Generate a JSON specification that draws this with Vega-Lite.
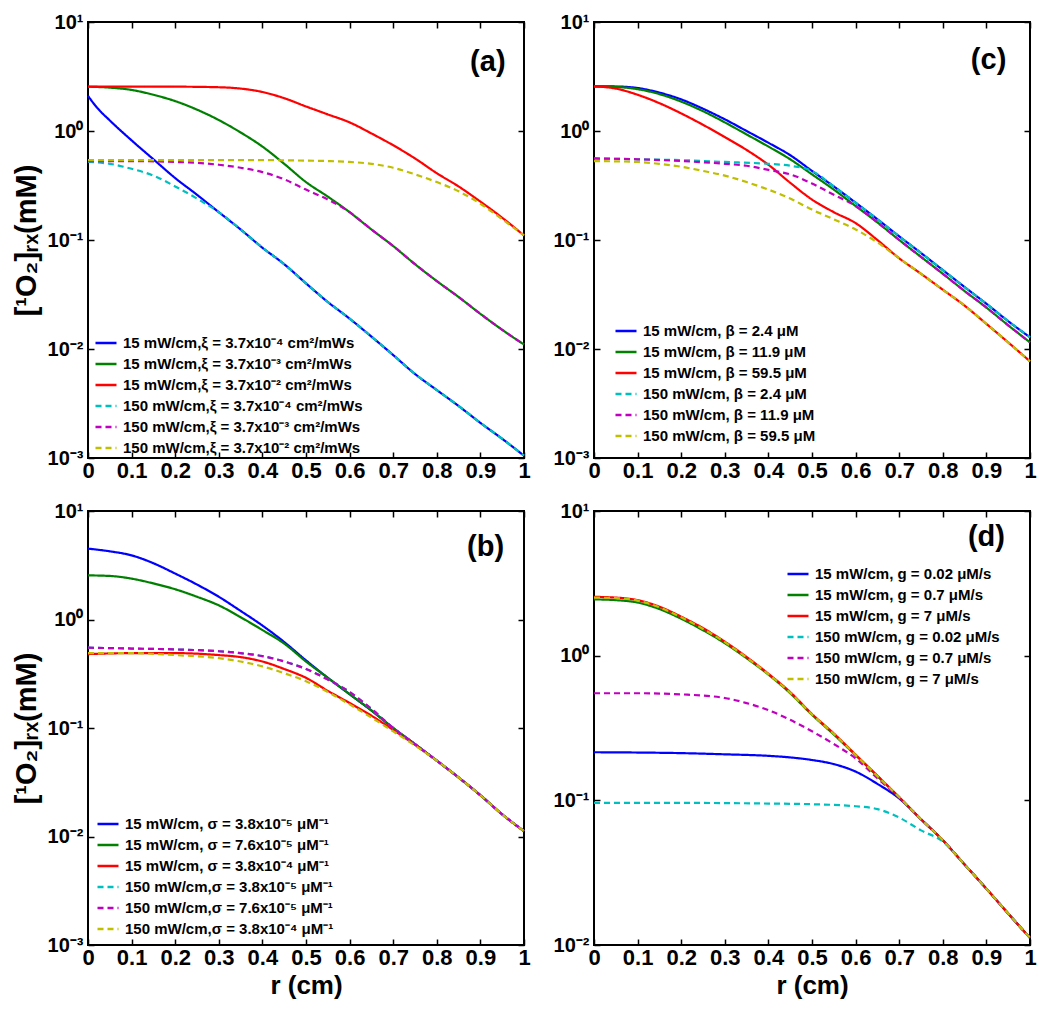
{
  "$schema": "https://vega.github.io/schema/vega-lite/v6.json",
  "background": "white",
  "padding": {"left": 11, "top": 11, "right": 5, "bottom": 5},
  "columns": 2,
  "bounds": "flush",
  "spacing": {"row": 53, "column": 70},
  "resolve": {"scale": {"color": "independent", "strokeDash": "independent"}, "legend": {"color": "independent", "strokeDash": "independent"}},
  "config": {
    "view": {"stroke": "black", "strokeWidth": 2},
    "axis": {"domain": false, "grid": false, "tickColor": "black", "tickSize": -6, "tickWidth": 1.5, "labelPadding": 11, "labelFont": "Liberation Sans", "labelFontSize": 22, "labelFontWeight": "bold", "labelColor": "black", "labelFlush": false, "titleFont": "Liberation Sans", "titleFontSize": 26, "titleFontWeight": "bold", "titleColor": "black"},
    "axisX": {"labelPadding": 8},
    "axisY": {"labelFontSize": 20},
    "legend": {"symbolType": "stroke", "symbolStrokeWidth": 2.5, "symbolSize": 441, "labelFont": "Liberation Sans", "labelFontSize": 15, "labelFontWeight": "bold", "labelColor": "black", "rowPadding": 1, "padding": 0, "labelLimit": 500, "labelOffset": 5},
    "text": {"font": "Liberation Sans"}
  },
  "concat": [
    {
      "width": 436, "height": 436,
      "layer": [
        {
          "data": {"values": [
            {"k":1,"r":0,"v":2.1},{"k":1,"r":0.02,"v":1.65},{"k":1,"r":0.05,"v":1.25},{"k":1,"r":0.1,"v":0.82},{"k":1,"r":0.15,"v":0.55},{"k":1,"r":0.2,"v":0.37},{"k":1,"r":0.25,"v":0.26},{"k":1,"r":0.3,"v":0.18},{"k":1,"r":0.35,"v":0.125},{"k":1,"r":0.4,"v":0.085},{"k":1,"r":0.45,"v":0.06},{"k":1,"r":0.5,"v":0.04},{"k":1,"r":0.55,"v":0.027},{"k":1,"r":0.6,"v":0.019},{"k":1,"r":0.65,"v":0.013},{"k":1,"r":0.7,"v":0.0088},{"k":1,"r":0.75,"v":0.0059},{"k":1,"r":0.8,"v":0.0042},{"k":1,"r":0.85,"v":0.003},{"k":1,"r":0.9,"v":0.0021},{"k":1,"r":0.95,"v":0.0015},{"k":1,"r":1,"v":0.00105},
            {"k":2,"r":0,"v":2.55},{"k":2,"r":0.05,"v":2.5},{"k":2,"r":0.1,"v":2.38},{"k":2,"r":0.15,"v":2.15},{"k":2,"r":0.2,"v":1.88},{"k":2,"r":0.25,"v":1.57},{"k":2,"r":0.3,"v":1.26},{"k":2,"r":0.35,"v":0.97},{"k":2,"r":0.4,"v":0.72},{"k":2,"r":0.45,"v":0.5},{"k":2,"r":0.5,"v":0.34},{"k":2,"r":0.55,"v":0.25},{"k":2,"r":0.6,"v":0.18},{"k":2,"r":0.65,"v":0.125},{"k":2,"r":0.7,"v":0.088},{"k":2,"r":0.75,"v":0.06},{"k":2,"r":0.8,"v":0.042},{"k":2,"r":0.85,"v":0.03},{"k":2,"r":0.9,"v":0.021},{"k":2,"r":0.95,"v":0.015},{"k":2,"r":1,"v":0.011},
            {"k":3,"r":0,"v":2.55},{"k":3,"r":0.1,"v":2.55},{"k":3,"r":0.2,"v":2.55},{"k":3,"r":0.3,"v":2.52},{"k":3,"r":0.35,"v":2.45},{"k":3,"r":0.4,"v":2.28},{"k":3,"r":0.45,"v":2.0},{"k":3,"r":0.5,"v":1.68},{"k":3,"r":0.55,"v":1.42},{"k":3,"r":0.6,"v":1.2},{"k":3,"r":0.65,"v":0.95},{"k":3,"r":0.7,"v":0.74},{"k":3,"r":0.75,"v":0.56},{"k":3,"r":0.8,"v":0.41},{"k":3,"r":0.85,"v":0.31},{"k":3,"r":0.9,"v":0.225},{"k":3,"r":0.95,"v":0.16},{"k":3,"r":1,"v":0.11},
            {"k":4,"r":0,"v":0.52},{"k":4,"r":0.05,"v":0.5},{"k":4,"r":0.1,"v":0.45},{"k":4,"r":0.15,"v":0.39},{"k":4,"r":0.2,"v":0.31},{"k":4,"r":0.25,"v":0.24},{"k":4,"r":0.3,"v":0.18},{"k":4,"r":0.35,"v":0.125},{"k":4,"r":0.4,"v":0.085},{"k":4,"r":0.45,"v":0.06},{"k":4,"r":0.5,"v":0.04},{"k":4,"r":0.55,"v":0.027},{"k":4,"r":0.6,"v":0.019},{"k":4,"r":0.65,"v":0.013},{"k":4,"r":0.7,"v":0.0088},{"k":4,"r":0.75,"v":0.0059},{"k":4,"r":0.8,"v":0.0042},{"k":4,"r":0.85,"v":0.003},{"k":4,"r":0.9,"v":0.0021},{"k":4,"r":0.95,"v":0.0015},{"k":4,"r":1,"v":0.00105},
            {"k":5,"r":0,"v":0.53},{"k":5,"r":0.1,"v":0.53},{"k":5,"r":0.2,"v":0.52},{"k":5,"r":0.25,"v":0.51},{"k":5,"r":0.3,"v":0.49},{"k":5,"r":0.35,"v":0.46},{"k":5,"r":0.4,"v":0.42},{"k":5,"r":0.45,"v":0.36},{"k":5,"r":0.5,"v":0.29},{"k":5,"r":0.55,"v":0.235},{"k":5,"r":0.6,"v":0.18},{"k":5,"r":0.65,"v":0.125},{"k":5,"r":0.7,"v":0.088},{"k":5,"r":0.75,"v":0.06},{"k":5,"r":0.8,"v":0.042},{"k":5,"r":0.85,"v":0.03},{"k":5,"r":0.9,"v":0.021},{"k":5,"r":0.95,"v":0.015},{"k":5,"r":1,"v":0.011},
            {"k":6,"r":0,"v":0.54},{"k":6,"r":0.2,"v":0.54},{"k":6,"r":0.4,"v":0.54},{"k":6,"r":0.5,"v":0.535},{"k":6,"r":0.55,"v":0.53},{"k":6,"r":0.6,"v":0.52},{"k":6,"r":0.65,"v":0.5},{"k":6,"r":0.7,"v":0.46},{"k":6,"r":0.75,"v":0.4},{"k":6,"r":0.8,"v":0.34},{"k":6,"r":0.85,"v":0.28},{"k":6,"r":0.9,"v":0.215},{"k":6,"r":0.95,"v":0.155},{"k":6,"r":1,"v":0.11}
          ]},
          "transform": [{"lookup": "k", "from": {"data": {"values": [
            {"k":1,"s":"15 mW/cm,ξ = 3.7x10⁻⁴ cm²/mWs"},
            {"k":2,"s":"15 mW/cm,ξ = 3.7x10⁻³ cm²/mWs"},
            {"k":3,"s":"15 mW/cm,ξ = 3.7x10⁻² cm²/mWs"},
            {"k":4,"s":"150 mW/cm,ξ = 3.7x10⁻⁴ cm²/mWs"},
            {"k":5,"s":"150 mW/cm,ξ = 3.7x10⁻³ cm²/mWs"},
            {"k":6,"s":"150 mW/cm,ξ = 3.7x10⁻² cm²/mWs"}
          ]}, "key": "k", "fields": ["s"]}}],
          "mark": {"type": "line", "strokeWidth": 2.2, "interpolate": "monotone"},
          "encoding": {
            "x": {"field": "r", "type": "quantitative", "scale": {"domain": [0, 1], "nice": false}, "axis": {"values": [0,0.1,0.2,0.3,0.4,0.5,0.6,0.7,0.8,0.9,1], "format": "~g", "title": null}},
            "y": {"field": "v", "type": "quantitative", "scale": {"type": "log", "domain": [0.001, 10], "nice": false}, "axis": {"values": [0.001,0.01,0.1,1,10], "labelExpr": "datum.value > 5 ? '10¹' : datum.value > 0.5 ? '10⁰' : datum.value > 0.05 ? '10⁻¹' : datum.value > 0.005 ? '10⁻²' : '10⁻³'", "title": "[¹O₂]ᵣₓ(mM)", "titleFontSize": 29, "titlePadding": 6}},
            "color": {"field": "s", "type": "nominal", "sort": null, "scale": {"domain": ["15 mW/cm,ξ = 3.7x10⁻⁴ cm²/mWs","15 mW/cm,ξ = 3.7x10⁻³ cm²/mWs","15 mW/cm,ξ = 3.7x10⁻² cm²/mWs","150 mW/cm,ξ = 3.7x10⁻⁴ cm²/mWs","150 mW/cm,ξ = 3.7x10⁻³ cm²/mWs","150 mW/cm,ξ = 3.7x10⁻² cm²/mWs"], "range": ["#0000FF","#008000","#FF0000","#00BFBF","#BF00BF","#BFBF00"]}, "legend": {"orient": "none", "legendX": 6, "legendY": 309, "title": null}},
            "strokeDash": {"field": "s", "type": "nominal", "sort": null, "scale": {"domain": ["15 mW/cm,ξ = 3.7x10⁻⁴ cm²/mWs","15 mW/cm,ξ = 3.7x10⁻³ cm²/mWs","15 mW/cm,ξ = 3.7x10⁻² cm²/mWs","150 mW/cm,ξ = 3.7x10⁻⁴ cm²/mWs","150 mW/cm,ξ = 3.7x10⁻³ cm²/mWs","150 mW/cm,ξ = 3.7x10⁻² cm²/mWs"], "range": [[1,0],[1,0],[1,0],[6,4],[6,4],[6,4]]}, "legend": {"orient": "none", "legendX": 6, "legendY": 309, "title": null}}
          }
        },
        {
          "data": {"values": [{"r": 0.917, "v": 4.3, "t": "(a)"}]},
          "mark": {"type": "text", "fontSize": 29, "fontWeight": "bold", "align": "center", "baseline": "middle", "color": "black"},
          "encoding": {
            "x": {"field": "r", "type": "quantitative", "scale": {"domain": [0, 1], "nice": false}, "axis": {"orient": "top", "labels": false, "title": null, "values": [0,0.1,0.2,0.3,0.4,0.5,0.6,0.7,0.8,0.9,1]}},
            "y": {"field": "v", "type": "quantitative", "scale": {"type": "log", "domain": [0.001, 10], "nice": false}, "axis": {"orient": "right", "labels": false, "title": null, "values": [0.001,0.01,0.1,1,10]}},
            "text": {"field": "t"}
          }
        }
      ],
      "resolve": {"axis": {"x": "independent", "y": "independent"}}
    },
    {
      "width": 436, "height": 436,
      "layer": [
        {
          "data": {"values": [
            {"k":1,"r":0,"v":2.57},{"k":1,"r":0.05,"v":2.56},{"k":1,"r":0.1,"v":2.48},{"k":1,"r":0.15,"v":2.25},{"k":1,"r":0.2,"v":1.95},{"k":1,"r":0.25,"v":1.6},{"k":1,"r":0.3,"v":1.28},{"k":1,"r":0.35,"v":1.0},{"k":1,"r":0.4,"v":0.78},{"k":1,"r":0.45,"v":0.6},{"k":1,"r":0.5,"v":0.43},{"k":1,"r":0.55,"v":0.31},{"k":1,"r":0.6,"v":0.22},{"k":1,"r":0.65,"v":0.155},{"k":1,"r":0.7,"v":0.108},{"k":1,"r":0.75,"v":0.076},{"k":1,"r":0.8,"v":0.053},{"k":1,"r":0.85,"v":0.037},{"k":1,"r":0.9,"v":0.026},{"k":1,"r":0.95,"v":0.018},{"k":1,"r":1,"v":0.0128},
            {"k":2,"r":0,"v":2.57},{"k":2,"r":0.05,"v":2.54},{"k":2,"r":0.1,"v":2.42},{"k":2,"r":0.15,"v":2.18},{"k":2,"r":0.2,"v":1.86},{"k":2,"r":0.25,"v":1.52},{"k":2,"r":0.3,"v":1.2},{"k":2,"r":0.35,"v":0.93},{"k":2,"r":0.4,"v":0.72},{"k":2,"r":0.45,"v":0.55},{"k":2,"r":0.5,"v":0.4},{"k":2,"r":0.55,"v":0.29},{"k":2,"r":0.6,"v":0.205},{"k":2,"r":0.65,"v":0.145},{"k":2,"r":0.7,"v":0.1},{"k":2,"r":0.75,"v":0.07},{"k":2,"r":0.8,"v":0.049},{"k":2,"r":0.85,"v":0.034},{"k":2,"r":0.9,"v":0.024},{"k":2,"r":0.95,"v":0.0165},{"k":2,"r":1,"v":0.0115},
            {"k":3,"r":0,"v":2.57},{"k":3,"r":0.05,"v":2.45},{"k":3,"r":0.1,"v":2.15},{"k":3,"r":0.15,"v":1.8},{"k":3,"r":0.2,"v":1.45},{"k":3,"r":0.25,"v":1.14},{"k":3,"r":0.3,"v":0.88},{"k":3,"r":0.35,"v":0.67},{"k":3,"r":0.4,"v":0.49},{"k":3,"r":0.45,"v":0.335},{"k":3,"r":0.5,"v":0.235},{"k":3,"r":0.55,"v":0.18},{"k":3,"r":0.6,"v":0.143},{"k":3,"r":0.65,"v":0.1},{"k":3,"r":0.7,"v":0.068},{"k":3,"r":0.75,"v":0.049},{"k":3,"r":0.8,"v":0.035},{"k":3,"r":0.85,"v":0.025},{"k":3,"r":0.9,"v":0.017},{"k":3,"r":0.95,"v":0.0115},{"k":3,"r":1,"v":0.0077},
            {"k":4,"r":0,"v":0.56},{"k":4,"r":0.1,"v":0.55},{"k":4,"r":0.2,"v":0.54},{"k":4,"r":0.3,"v":0.52},{"k":4,"r":0.4,"v":0.5},{"k":4,"r":0.45,"v":0.48},{"k":4,"r":0.5,"v":0.43},{"k":4,"r":0.55,"v":0.31},{"k":4,"r":0.6,"v":0.22},{"k":4,"r":0.65,"v":0.155},{"k":4,"r":0.7,"v":0.108},{"k":4,"r":0.75,"v":0.076},{"k":4,"r":0.8,"v":0.053},{"k":4,"r":0.85,"v":0.037},{"k":4,"r":0.9,"v":0.026},{"k":4,"r":0.95,"v":0.018},{"k":4,"r":1,"v":0.0128},
            {"k":5,"r":0,"v":0.56},{"k":5,"r":0.1,"v":0.55},{"k":5,"r":0.2,"v":0.53},{"k":5,"r":0.3,"v":0.5},{"k":5,"r":0.35,"v":0.48},{"k":5,"r":0.4,"v":0.44},{"k":5,"r":0.45,"v":0.4},{"k":5,"r":0.5,"v":0.33},{"k":5,"r":0.55,"v":0.26},{"k":5,"r":0.6,"v":0.205},{"k":5,"r":0.65,"v":0.145},{"k":5,"r":0.7,"v":0.1},{"k":5,"r":0.75,"v":0.07},{"k":5,"r":0.8,"v":0.049},{"k":5,"r":0.85,"v":0.034},{"k":5,"r":0.9,"v":0.024},{"k":5,"r":0.95,"v":0.0165},{"k":5,"r":1,"v":0.0115},
            {"k":6,"r":0,"v":0.53},{"k":6,"r":0.1,"v":0.52},{"k":6,"r":0.15,"v":0.5},{"k":6,"r":0.2,"v":0.47},{"k":6,"r":0.25,"v":0.43},{"k":6,"r":0.3,"v":0.39},{"k":6,"r":0.35,"v":0.34},{"k":6,"r":0.4,"v":0.29},{"k":6,"r":0.45,"v":0.24},{"k":6,"r":0.5,"v":0.19},{"k":6,"r":0.55,"v":0.155},{"k":6,"r":0.6,"v":0.125},{"k":6,"r":0.65,"v":0.095},{"k":6,"r":0.7,"v":0.068},{"k":6,"r":0.75,"v":0.049},{"k":6,"r":0.8,"v":0.035},{"k":6,"r":0.85,"v":0.025},{"k":6,"r":0.9,"v":0.017},{"k":6,"r":0.95,"v":0.0115},{"k":6,"r":1,"v":0.0077}
          ]},
          "transform": [{"lookup": "k", "from": {"data": {"values": [
            {"k":1,"s":"15 mW/cm, β = 2.4 μM"},
            {"k":2,"s":"15 mW/cm, β = 11.9 μM"},
            {"k":3,"s":"15 mW/cm, β = 59.5 μM"},
            {"k":4,"s":"150 mW/cm, β = 2.4 μM"},
            {"k":5,"s":"150 mW/cm, β = 11.9 μM"},
            {"k":6,"s":"150 mW/cm, β = 59.5 μM"}
          ]}, "key": "k", "fields": ["s"]}}],
          "mark": {"type": "line", "strokeWidth": 2.2, "interpolate": "monotone"},
          "encoding": {
            "x": {"field": "r", "type": "quantitative", "scale": {"domain": [0, 1], "nice": false}, "axis": {"values": [0,0.1,0.2,0.3,0.4,0.5,0.6,0.7,0.8,0.9,1], "format": "~g", "title": null}},
            "y": {"field": "v", "type": "quantitative", "scale": {"type": "log", "domain": [0.001, 10], "nice": false}, "axis": {"values": [0.001,0.01,0.1,1,10], "labelExpr": "datum.value > 5 ? '10¹' : datum.value > 0.5 ? '10⁰' : datum.value > 0.05 ? '10⁻¹' : datum.value > 0.005 ? '10⁻²' : '10⁻³'", "title": null}},
            "color": {"field": "s", "type": "nominal", "sort": null, "scale": {"domain": ["15 mW/cm, β = 2.4 μM","15 mW/cm, β = 11.9 μM","15 mW/cm, β = 59.5 μM","150 mW/cm, β = 2.4 μM","150 mW/cm, β = 11.9 μM","150 mW/cm, β = 59.5 μM"], "range": ["#0000FF","#008000","#FF0000","#00BFBF","#BF00BF","#BFBF00"]}, "legend": {"orient": "none", "legendX": 20, "legendY": 297, "title": null}},
            "strokeDash": {"field": "s", "type": "nominal", "sort": null, "scale": {"domain": ["15 mW/cm, β = 2.4 μM","15 mW/cm, β = 11.9 μM","15 mW/cm, β = 59.5 μM","150 mW/cm, β = 2.4 μM","150 mW/cm, β = 11.9 μM","150 mW/cm, β = 59.5 μM"], "range": [[1,0],[1,0],[1,0],[6,4],[6,4],[6,4]]}, "legend": {"orient": "none", "legendX": 20, "legendY": 297, "title": null}}
          }
        },
        {
          "data": {"values": [{"r": 0.905, "v": 4.5, "t": "(c)"}]},
          "mark": {"type": "text", "fontSize": 29, "fontWeight": "bold", "align": "center", "baseline": "middle", "color": "black"},
          "encoding": {
            "x": {"field": "r", "type": "quantitative", "scale": {"domain": [0, 1], "nice": false}, "axis": {"orient": "top", "labels": false, "title": null, "values": [0,0.1,0.2,0.3,0.4,0.5,0.6,0.7,0.8,0.9,1]}},
            "y": {"field": "v", "type": "quantitative", "scale": {"type": "log", "domain": [0.001, 10], "nice": false}, "axis": {"orient": "right", "labels": false, "title": null, "values": [0.001,0.01,0.1,1,10]}},
            "text": {"field": "t"}
          }
        }
      ],
      "resolve": {"axis": {"x": "independent", "y": "independent"}}
    },
    {
      "width": 436, "height": 434,
      "layer": [
        {
          "data": {"values": [
            {"k":1,"r":0,"v":4.5},{"k":1,"r":0.05,"v":4.25},{"k":1,"r":0.1,"v":3.9},{"k":1,"r":0.15,"v":3.3},{"k":1,"r":0.2,"v":2.65},{"k":1,"r":0.25,"v":2.1},{"k":1,"r":0.3,"v":1.62},{"k":1,"r":0.35,"v":1.2},{"k":1,"r":0.4,"v":0.88},{"k":1,"r":0.45,"v":0.62},{"k":1,"r":0.5,"v":0.42},{"k":1,"r":0.55,"v":0.29},{"k":1,"r":0.6,"v":0.205},{"k":1,"r":0.65,"v":0.145},{"k":1,"r":0.7,"v":0.1},{"k":1,"r":0.75,"v":0.071},{"k":1,"r":0.8,"v":0.05},{"k":1,"r":0.85,"v":0.035},{"k":1,"r":0.9,"v":0.024},{"k":1,"r":0.95,"v":0.016},{"k":1,"r":1,"v":0.0112},
            {"k":2,"r":0,"v":2.55},{"k":2,"r":0.05,"v":2.52},{"k":2,"r":0.1,"v":2.38},{"k":2,"r":0.15,"v":2.15},{"k":2,"r":0.2,"v":1.9},{"k":2,"r":0.25,"v":1.62},{"k":2,"r":0.3,"v":1.35},{"k":2,"r":0.35,"v":1.05},{"k":2,"r":0.4,"v":0.8},{"k":2,"r":0.45,"v":0.6},{"k":2,"r":0.5,"v":0.41},{"k":2,"r":0.55,"v":0.29},{"k":2,"r":0.6,"v":0.205},{"k":2,"r":0.65,"v":0.145},{"k":2,"r":0.7,"v":0.1},{"k":2,"r":0.75,"v":0.071},{"k":2,"r":0.8,"v":0.05},{"k":2,"r":0.85,"v":0.035},{"k":2,"r":0.9,"v":0.024},{"k":2,"r":0.95,"v":0.016},{"k":2,"r":1,"v":0.0112},
            {"k":3,"r":0,"v":0.48},{"k":3,"r":0.1,"v":0.49},{"k":3,"r":0.2,"v":0.49},{"k":3,"r":0.3,"v":0.47},{"k":3,"r":0.35,"v":0.45},{"k":3,"r":0.4,"v":0.41},{"k":3,"r":0.45,"v":0.35},{"k":3,"r":0.5,"v":0.29},{"k":3,"r":0.55,"v":0.22},{"k":3,"r":0.6,"v":0.17},{"k":3,"r":0.65,"v":0.13},{"k":3,"r":0.7,"v":0.096},{"k":3,"r":0.75,"v":0.07},{"k":3,"r":0.8,"v":0.05},{"k":3,"r":0.85,"v":0.035},{"k":3,"r":0.9,"v":0.024},{"k":3,"r":0.95,"v":0.016},{"k":3,"r":1,"v":0.0112},
            {"k":4,"r":0,"v":0.55},{"k":4,"r":0.1,"v":0.54},{"k":4,"r":0.2,"v":0.53},{"k":4,"r":0.3,"v":0.51},{"k":4,"r":0.35,"v":0.49},{"k":4,"r":0.4,"v":0.46},{"k":4,"r":0.45,"v":0.41},{"k":4,"r":0.5,"v":0.35},{"k":4,"r":0.55,"v":0.28},{"k":4,"r":0.6,"v":0.215},{"k":4,"r":0.65,"v":0.15},{"k":4,"r":0.7,"v":0.1},{"k":4,"r":0.75,"v":0.071},{"k":4,"r":0.8,"v":0.05},{"k":4,"r":0.85,"v":0.035},{"k":4,"r":0.9,"v":0.024},{"k":4,"r":0.95,"v":0.016},{"k":4,"r":1,"v":0.0112},
            {"k":5,"r":0,"v":0.55},{"k":5,"r":0.1,"v":0.54},{"k":5,"r":0.2,"v":0.53},{"k":5,"r":0.3,"v":0.51},{"k":5,"r":0.35,"v":0.49},{"k":5,"r":0.4,"v":0.46},{"k":5,"r":0.45,"v":0.41},{"k":5,"r":0.5,"v":0.35},{"k":5,"r":0.55,"v":0.28},{"k":5,"r":0.6,"v":0.215},{"k":5,"r":0.65,"v":0.15},{"k":5,"r":0.7,"v":0.1},{"k":5,"r":0.75,"v":0.071},{"k":5,"r":0.8,"v":0.05},{"k":5,"r":0.85,"v":0.035},{"k":5,"r":0.9,"v":0.024},{"k":5,"r":0.95,"v":0.016},{"k":5,"r":1,"v":0.0112},
            {"k":6,"r":0,"v":0.49},{"k":6,"r":0.1,"v":0.49},{"k":6,"r":0.2,"v":0.47},{"k":6,"r":0.3,"v":0.44},{"k":6,"r":0.35,"v":0.41},{"k":6,"r":0.4,"v":0.37},{"k":6,"r":0.45,"v":0.32},{"k":6,"r":0.5,"v":0.27},{"k":6,"r":0.55,"v":0.215},{"k":6,"r":0.6,"v":0.165},{"k":6,"r":0.65,"v":0.125},{"k":6,"r":0.7,"v":0.093},{"k":6,"r":0.75,"v":0.069},{"k":6,"r":0.8,"v":0.05},{"k":6,"r":0.85,"v":0.035},{"k":6,"r":0.9,"v":0.024},{"k":6,"r":0.95,"v":0.016},{"k":6,"r":1,"v":0.0112}
          ]},
          "transform": [{"lookup": "k", "from": {"data": {"values": [
            {"k":1,"s":"15 mW/cm, σ = 3.8x10⁻⁵ μM⁻¹"},
            {"k":2,"s":"15 mW/cm, σ = 7.6x10⁻⁵ μM⁻¹"},
            {"k":3,"s":"15 mW/cm, σ = 3.8x10⁻⁴ μM⁻¹"},
            {"k":4,"s":"150 mW/cm,σ = 3.8x10⁻⁵ μM⁻¹"},
            {"k":5,"s":"150 mW/cm,σ = 7.6x10⁻⁵ μM⁻¹"},
            {"k":6,"s":"150 mW/cm,σ = 3.8x10⁻⁴ μM⁻¹"}
          ]}, "key": "k", "fields": ["s"]}}],
          "mark": {"type": "line", "strokeWidth": 2.2, "interpolate": "monotone"},
          "encoding": {
            "x": {"field": "r", "type": "quantitative", "scale": {"domain": [0, 1], "nice": false}, "axis": {"values": [0,0.1,0.2,0.3,0.4,0.5,0.6,0.7,0.8,0.9,1], "format": "~g", "title": "r (cm)", "titlePadding": 4}},
            "y": {"field": "v", "type": "quantitative", "scale": {"type": "log", "domain": [0.001, 10], "nice": false}, "axis": {"values": [0.001,0.01,0.1,1,10], "labelExpr": "datum.value > 5 ? '10¹' : datum.value > 0.5 ? '10⁰' : datum.value > 0.05 ? '10⁻¹' : datum.value > 0.005 ? '10⁻²' : '10⁻³'", "title": "[¹O₂]ᵣₓ(mM)", "titleFontSize": 29, "titlePadding": 6}},
            "color": {"field": "s", "type": "nominal", "sort": null, "scale": {"domain": ["15 mW/cm, σ = 3.8x10⁻⁵ μM⁻¹","15 mW/cm, σ = 7.6x10⁻⁵ μM⁻¹","15 mW/cm, σ = 3.8x10⁻⁴ μM⁻¹","150 mW/cm,σ = 3.8x10⁻⁵ μM⁻¹","150 mW/cm,σ = 7.6x10⁻⁵ μM⁻¹","150 mW/cm,σ = 3.8x10⁻⁴ μM⁻¹"], "range": ["#0000FF","#008000","#FF0000","#00BFBF","#BF00BF","#BFBF00"]}, "legend": {"orient": "none", "legendX": 8, "legendY": 301, "title": null}},
            "strokeDash": {"field": "s", "type": "nominal", "sort": null, "scale": {"domain": ["15 mW/cm, σ = 3.8x10⁻⁵ μM⁻¹","15 mW/cm, σ = 7.6x10⁻⁵ μM⁻¹","15 mW/cm, σ = 3.8x10⁻⁴ μM⁻¹","150 mW/cm,σ = 3.8x10⁻⁵ μM⁻¹","150 mW/cm,σ = 7.6x10⁻⁵ μM⁻¹","150 mW/cm,σ = 3.8x10⁻⁴ μM⁻¹"], "range": [[1,0],[1,0],[1,0],[6,4],[6,4],[6,4]]}, "legend": {"orient": "none", "legendX": 8, "legendY": 301, "title": null}}
          }
        },
        {
          "data": {"values": [{"r": 0.912, "v": 4.7, "t": "(b)"}]},
          "mark": {"type": "text", "fontSize": 29, "fontWeight": "bold", "align": "center", "baseline": "middle", "color": "black"},
          "encoding": {
            "x": {"field": "r", "type": "quantitative", "scale": {"domain": [0, 1], "nice": false}, "axis": {"orient": "top", "labels": false, "title": null, "values": [0,0.1,0.2,0.3,0.4,0.5,0.6,0.7,0.8,0.9,1]}},
            "y": {"field": "v", "type": "quantitative", "scale": {"type": "log", "domain": [0.001, 10], "nice": false}, "axis": {"orient": "right", "labels": false, "title": null, "values": [0.001,0.01,0.1,1,10]}},
            "text": {"field": "t"}
          }
        }
      ],
      "resolve": {"axis": {"x": "independent", "y": "independent"}}
    },
    {
      "width": 436, "height": 434,
      "layer": [
        {
          "data": {"values": [
            {"k":1,"r":0,"v":0.215},{"k":1,"r":0.1,"v":0.214},{"k":1,"r":0.2,"v":0.212},{"k":1,"r":0.3,"v":0.208},{"k":1,"r":0.4,"v":0.203},{"k":1,"r":0.45,"v":0.198},{"k":1,"r":0.5,"v":0.19},{"k":1,"r":0.55,"v":0.178},{"k":1,"r":0.6,"v":0.158},{"k":1,"r":0.65,"v":0.13},{"k":1,"r":0.7,"v":0.103},{"k":1,"r":0.75,"v":0.074},{"k":1,"r":0.8,"v":0.053},{"k":1,"r":0.85,"v":0.036},{"k":1,"r":0.9,"v":0.0245},{"k":1,"r":0.95,"v":0.0165},{"k":1,"r":1,"v":0.0112},
            {"k":2,"r":0,"v":2.45},{"k":2,"r":0.05,"v":2.42},{"k":2,"r":0.1,"v":2.33},{"k":2,"r":0.15,"v":2.1},{"k":2,"r":0.2,"v":1.8},{"k":2,"r":0.25,"v":1.5},{"k":2,"r":0.3,"v":1.22},{"k":2,"r":0.35,"v":0.96},{"k":2,"r":0.4,"v":0.74},{"k":2,"r":0.45,"v":0.55},{"k":2,"r":0.5,"v":0.39},{"k":2,"r":0.55,"v":0.285},{"k":2,"r":0.6,"v":0.205},{"k":2,"r":0.65,"v":0.147},{"k":2,"r":0.7,"v":0.105},{"k":2,"r":0.75,"v":0.074},{"k":2,"r":0.8,"v":0.053},{"k":2,"r":0.85,"v":0.036},{"k":2,"r":0.9,"v":0.0245},{"k":2,"r":0.95,"v":0.0165},{"k":2,"r":1,"v":0.0112},
            {"k":3,"r":0,"v":2.55},{"k":3,"r":0.05,"v":2.52},{"k":3,"r":0.1,"v":2.42},{"k":3,"r":0.15,"v":2.18},{"k":3,"r":0.2,"v":1.86},{"k":3,"r":0.25,"v":1.55},{"k":3,"r":0.3,"v":1.25},{"k":3,"r":0.35,"v":0.98},{"k":3,"r":0.4,"v":0.75},{"k":3,"r":0.45,"v":0.56},{"k":3,"r":0.5,"v":0.395},{"k":3,"r":0.55,"v":0.29},{"k":3,"r":0.6,"v":0.207},{"k":3,"r":0.65,"v":0.148},{"k":3,"r":0.7,"v":0.105},{"k":3,"r":0.75,"v":0.074},{"k":3,"r":0.8,"v":0.053},{"k":3,"r":0.85,"v":0.036},{"k":3,"r":0.9,"v":0.0245},{"k":3,"r":0.95,"v":0.0165},{"k":3,"r":1,"v":0.0112},
            {"k":4,"r":0,"v":0.096},{"k":4,"r":0.2,"v":0.096},{"k":4,"r":0.4,"v":0.095},{"k":4,"r":0.5,"v":0.094},{"k":4,"r":0.6,"v":0.091},{"k":4,"r":0.65,"v":0.087},{"k":4,"r":0.7,"v":0.076},{"k":4,"r":0.75,"v":0.062},{"k":4,"r":0.8,"v":0.052},{"k":4,"r":0.85,"v":0.036},{"k":4,"r":0.9,"v":0.0245},{"k":4,"r":0.95,"v":0.0165},{"k":4,"r":1,"v":0.0112},
            {"k":5,"r":0,"v":0.55},{"k":5,"r":0.1,"v":0.55},{"k":5,"r":0.2,"v":0.54},{"k":5,"r":0.3,"v":0.51},{"k":5,"r":0.35,"v":0.47},{"k":5,"r":0.4,"v":0.42},{"k":5,"r":0.45,"v":0.36},{"k":5,"r":0.5,"v":0.3},{"k":5,"r":0.55,"v":0.245},{"k":5,"r":0.6,"v":0.195},{"k":5,"r":0.65,"v":0.142},{"k":5,"r":0.7,"v":0.105},{"k":5,"r":0.75,"v":0.074},{"k":5,"r":0.8,"v":0.053},{"k":5,"r":0.85,"v":0.036},{"k":5,"r":0.9,"v":0.0245},{"k":5,"r":0.95,"v":0.0165},{"k":5,"r":1,"v":0.0112},
            {"k":6,"r":0,"v":2.52},{"k":6,"r":0.05,"v":2.5},{"k":6,"r":0.1,"v":2.4},{"k":6,"r":0.15,"v":2.16},{"k":6,"r":0.2,"v":1.84},{"k":6,"r":0.25,"v":1.53},{"k":6,"r":0.3,"v":1.24},{"k":6,"r":0.35,"v":0.97},{"k":6,"r":0.4,"v":0.745},{"k":6,"r":0.45,"v":0.555},{"k":6,"r":0.5,"v":0.392},{"k":6,"r":0.55,"v":0.288},{"k":6,"r":0.6,"v":0.206},{"k":6,"r":0.65,"v":0.147},{"k":6,"r":0.7,"v":0.105},{"k":6,"r":0.75,"v":0.074},{"k":6,"r":0.8,"v":0.053},{"k":6,"r":0.85,"v":0.036},{"k":6,"r":0.9,"v":0.0245},{"k":6,"r":0.95,"v":0.0165},{"k":6,"r":1,"v":0.0112}
          ]},
          "transform": [{"lookup": "k", "from": {"data": {"values": [
            {"k":1,"s":"15 mW/cm,  g = 0.02 μM/s"},
            {"k":2,"s":"15 mW/cm,  g = 0.7 μM/s"},
            {"k":3,"s":"15 mW/cm,  g = 7 μM/s"},
            {"k":4,"s":"150 mW/cm,  g = 0.02 μM/s"},
            {"k":5,"s":"150 mW/cm,  g = 0.7 μM/s"},
            {"k":6,"s":"150 mW/cm,  g = 7 μM/s"}
          ]}, "key": "k", "fields": ["s"]}}],
          "mark": {"type": "line", "strokeWidth": 2.2, "interpolate": "monotone"},
          "encoding": {
            "x": {"field": "r", "type": "quantitative", "scale": {"domain": [0, 1], "nice": false}, "axis": {"values": [0,0.1,0.2,0.3,0.4,0.5,0.6,0.7,0.8,0.9,1], "format": "~g", "title": "r (cm)", "titlePadding": 4}},
            "y": {"field": "v", "type": "quantitative", "scale": {"type": "log", "domain": [0.01, 10], "nice": false}, "axis": {"values": [0.01,0.1,1,10], "labelExpr": "datum.value > 5 ? '10¹' : datum.value > 0.5 ? '10⁰' : datum.value > 0.05 ? '10⁻¹' : '10⁻²'", "title": null}},
            "color": {"field": "s", "type": "nominal", "sort": null, "scale": {"domain": ["15 mW/cm,  g = 0.02 μM/s","15 mW/cm,  g = 0.7 μM/s","15 mW/cm,  g = 7 μM/s","150 mW/cm,  g = 0.02 μM/s","150 mW/cm,  g = 0.7 μM/s","150 mW/cm,  g = 7 μM/s"], "range": ["#0000FF","#008000","#FF0000","#00BFBF","#BF00BF","#BFBF00"]}, "legend": {"orient": "none", "legendX": 192, "legendY": 51, "title": null}},
            "strokeDash": {"field": "s", "type": "nominal", "sort": null, "scale": {"domain": ["15 mW/cm,  g = 0.02 μM/s","15 mW/cm,  g = 0.7 μM/s","15 mW/cm,  g = 7 μM/s","150 mW/cm,  g = 0.02 μM/s","150 mW/cm,  g = 0.7 μM/s","150 mW/cm,  g = 7 μM/s"], "range": [[1,0],[1,0],[1,0],[6,4],[6,4],[6,4]]}, "legend": {"orient": "none", "legendX": 192, "legendY": 51, "title": null}}
          }
        },
        {
          "data": {"values": [{"r": 0.9, "v": 6.6, "t": "(d)"}]},
          "mark": {"type": "text", "fontSize": 29, "fontWeight": "bold", "align": "center", "baseline": "middle", "color": "black"},
          "encoding": {
            "x": {"field": "r", "type": "quantitative", "scale": {"domain": [0, 1], "nice": false}, "axis": {"orient": "top", "labels": false, "title": null, "values": [0,0.1,0.2,0.3,0.4,0.5,0.6,0.7,0.8,0.9,1]}},
            "y": {"field": "v", "type": "quantitative", "scale": {"type": "log", "domain": [0.01, 10], "nice": false}, "axis": {"orient": "right", "labels": false, "title": null, "values": [0.01,0.1,1,10]}},
            "text": {"field": "t"}
          }
        }
      ],
      "resolve": {"axis": {"x": "independent", "y": "independent"}}
    }
  ]
}
